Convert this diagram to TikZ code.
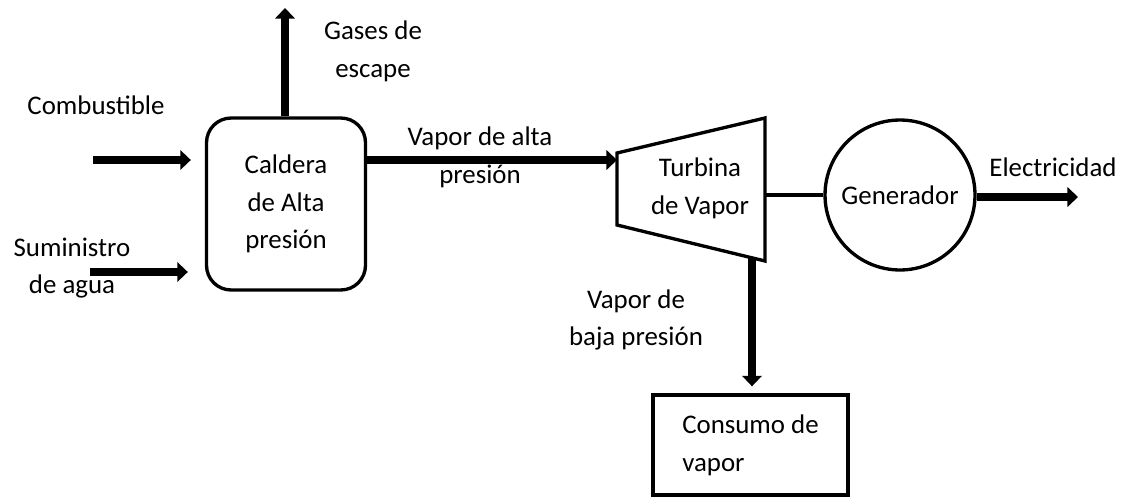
\documentclass[tikz,border=0pt]{standalone}
\usepackage{fontspec}
\setmainfont{Carlito}
\usetikzlibrary{arrows.meta}
\begin{document}
\begin{tikzpicture}[x=0.02cm,y=-0.02cm] % Ciclo de vapor
\tikzstyle{every node}=[font=\fontsize{15.3}{21.5}\selectfont] % letra de todo el dibujo
\tikzstyle{flujo} = [line width=5pt, -{Triangle[length=6pt,width=11pt]}] % flecha gruesa de flujo
\tikzstyle{equipo} = [draw, line width=1.9pt, align=center] % caja de equipo
\tikzstyle{texto} = [align=center, inner sep=0pt] % etiqueta suelta
\useasboundingbox (0,0) rectangle (1138,497);

%
\node[equipo, rounded corners=14pt, minimum width=3.18cm, minimum height=3.44cm] (caldera) at (286,204) {Caldera\\de Alta\\presión};
\node[equipo, circle, minimum size=3cm, inner sep=0pt] (generador) at (900,195) {Generador};
\node[equipo, align=left, minimum width=3.9cm, minimum height=2cm] (consumo) at (750.5,445) {Consumo de\\vapor};
% turbina (trapecio)
\coordinate (t1) at (617,153);
\coordinate (t2) at (765,118);
\coordinate (t3) at (765,261);
\coordinate (t4) at (617,225);
\draw[line width=1.9pt] (t1) -- (t2) -- (t3) -- (t4) -- cycle;
\node[texto] (turbina) at (700,188) {Turbina\\de Vapor};
\coordinate (entrada) at (617,160);
\coordinate (eje) at (765,195);
\coordinate (salida) at (752,258);
%
\node[texto] (lcomb) at (96,105) {Combustible};
\node[texto] (lagua) at (72,268) {Suministro\\de agua};
\node[texto] (lgases) at (373,51) {Gases de\\escape};
\node[texto] (lalta) at (480,157) {Vapor de alta\\presión};
\node[texto] (lbaja) at (636,320) {Vapor de\\baja presión};
\node[texto] (lelec) at (1053,167) {Electricidad};
%
\coordinate (comb) at (93,160);
\coordinate (agua) at (90,272);
\coordinate (gases) at (285,8);
\coordinate (elec) at (1078,197);
\draw[flujo, shorten >=0.28cm] (comb) -- (caldera.west |- comb);
\draw[flujo, shorten >=0.34cm] (agua) -- (caldera.west |- agua);
\draw[flujo] (caldera.north -| gases) -- (gases);
\draw[flujo] (caldera.east |- entrada) -- (entrada);
\draw[line width=2.4pt] (eje) -- (generador.west);
\draw[flujo] (generador.east |- elec) -- (elec);
\draw[flujo, shorten >=0.14cm] (salida) -- (consumo.north -| salida);
\end{tikzpicture}
\end{document}
